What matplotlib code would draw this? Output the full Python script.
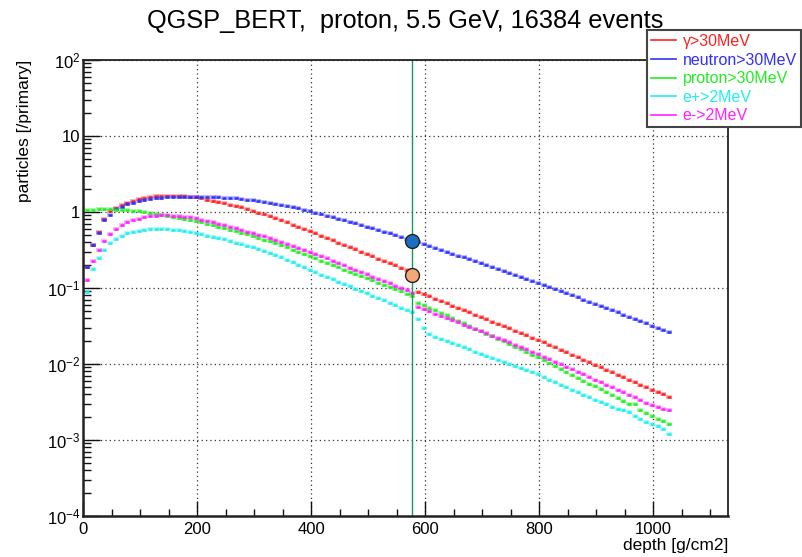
import numpy as np
import matplotlib
matplotlib.use('Agg')
import matplotlib.pyplot as plt
from matplotlib.lines import Line2D
from matplotlib.ticker import MultipleLocator, LogLocator, NullFormatter

plt.rcParams['font.family'] = ['Liberation Sans', 'DejaVu Sans']
plt.rcParams['mathtext.fontset'] = 'custom'
plt.rcParams['mathtext.rm'] = 'Liberation Sans'

# bin centres of the depth histograms (10 g/cm2 bins)
depth = np.arange(7.5, 1030, 10)

gamma = [0.19, 0.37, 0.55, 0.82, 1.02, 1.14, 1.24, 1.33, 1.41, 1.48,
         1.54, 1.58, 1.61, 1.63, 1.64, 1.64, 1.63, 1.61, 1.585, 1.555,
         1.507, 1.459, 1.409, 1.358, 1.306, 1.253, 1.200, 1.146, 1.091, 1.038,
         0.984, 0.931, 0.879, 0.828, 0.778, 0.730, 0.684, 0.640, 0.598, 0.560,
         0.522, 0.488, 0.455, 0.425, 0.396, 0.370, 0.345, 0.322, 0.301, 0.281,
         0.262, 0.244, 0.228, 0.213, 0.199, 0.185, 0.173, 0.161, 0.0879, 0.0828,
         0.0773, 0.0721, 0.0673, 0.0628, 0.0586, 0.0547, 0.0511, 0.0476, 0.0445, 0.0415,
         0.0387, 0.0361, 0.0337, 0.0315, 0.0294, 0.0274, 0.0256, 0.0239, 0.0223, 0.0208,
         0.0193, 0.0179, 0.0166, 0.0153, 0.0142, 0.0132, 0.0122, 0.0113, 0.0105, 0.00973,
         0.00902, 0.00836, 0.00774, 0.00718, 0.00665, 0.00617, 0.00571, 0.00530, 0.00491, 0.00455,
         0.00422, 0.00398, 0.00372]

neutron = [0.19, 0.37, 0.53, 0.78, 0.92, 1.08, 1.18, 1.26, 1.33, 1.39,
           1.44, 1.48, 1.51, 1.54, 1.56, 1.575, 1.585, 1.59, 1.59, 1.585,
           1.582, 1.578, 1.570, 1.560, 1.545, 1.528, 1.507, 1.483, 1.455, 1.426,
           1.393, 1.358, 1.321, 1.282, 1.242, 1.199, 1.156, 1.112, 1.067, 1.023,
           0.979, 0.938, 0.895, 0.855, 0.817, 0.780, 0.743, 0.708, 0.675, 0.643,
           0.611, 0.581, 0.552, 0.525, 0.498, 0.472, 0.447, 0.423, 0.400, 0.378,
           0.356, 0.337, 0.318, 0.300, 0.283, 0.267, 0.252, 0.238, 0.224, 0.211,
           0.199, 0.187, 0.177, 0.166, 0.157, 0.148, 0.139, 0.131, 0.123, 0.116,
           0.109, 0.103, 0.0964, 0.0906, 0.0851, 0.0800, 0.0750, 0.0703, 0.0659, 0.0618,
           0.0579, 0.0543, 0.0509, 0.0478, 0.0447, 0.0418, 0.0391, 0.0366, 0.0342, 0.0320,
           0.0299, 0.0280, 0.0262]

proton = [1.05, 1.07, 1.08, 1.08, 1.08, 1.07, 1.06, 1.05, 1.04, 1.02,
          1.0, 0.975, 0.95, 0.922, 0.895, 0.868, 0.84, 0.812, 0.785, 0.758,
          0.728, 0.698, 0.670, 0.643, 0.617, 0.587, 0.560, 0.533, 0.508, 0.484,
          0.458, 0.434, 0.410, 0.388, 0.367, 0.344, 0.321, 0.301, 0.281, 0.263,
          0.245, 0.229, 0.214, 0.200, 0.187, 0.175, 0.164, 0.153, 0.144, 0.134,
          0.126, 0.117, 0.110, 0.103, 0.0962, 0.0900, 0.0841, 0.0787, 0.0631, 0.0596,
          0.0551, 0.0509, 0.0470, 0.0435, 0.0402, 0.0372, 0.0344, 0.0317, 0.0293, 0.0271,
          0.0251, 0.0232, 0.0214, 0.0198, 0.0183, 0.0169, 0.0156, 0.0144, 0.0133, 0.0123,
          0.0113, 0.0103, 0.00944, 0.00863, 0.00789, 0.00723, 0.00661, 0.00604, 0.00552, 0.00506,
          0.00462, 0.00423, 0.00387, 0.00354, 0.00324, 0.00302, 0.00295, 0.00251, 0.00229, 0.00207,
          0.00191, 0.00178, 0.00162]

positron = [0.089, 0.176, 0.25, 0.32, 0.39, 0.44, 0.49, 0.525, 0.55, 0.57,
            0.585, 0.593, 0.597, 0.598, 0.595, 0.588, 0.577, 0.563, 0.547, 0.53,
            0.509, 0.490, 0.471, 0.453, 0.436, 0.415, 0.395, 0.377, 0.359, 0.342,
            0.322, 0.303, 0.286, 0.269, 0.254, 0.235, 0.218, 0.202, 0.187, 0.173,
            0.161, 0.150, 0.140, 0.130, 0.121, 0.113, 0.105, 0.0979, 0.0912, 0.0849,
            0.0791, 0.0736, 0.0685, 0.0638, 0.0594, 0.0553, 0.0515, 0.0480, 0.0389, 0.0295,
            0.0245, 0.0226, 0.0214, 0.0200, 0.0188, 0.0177, 0.0166, 0.0156, 0.0146, 0.0137,
            0.0129, 0.0121, 0.0114, 0.0106, 0.0100, 0.00938, 0.00881, 0.00826, 0.00776, 0.00728,
            0.00675, 0.00625, 0.00579, 0.00537, 0.00498, 0.00461, 0.00428, 0.00396, 0.00367, 0.00340,
            0.00316, 0.00295, 0.00275, 0.00257, 0.00245, 0.00234, 0.00204, 0.00191, 0.00174, 0.00162,
            0.00151, 0.00138, 0.00120]

electron = [0.127, 0.226, 0.316, 0.41, 0.51, 0.60, 0.67, 0.73, 0.78, 0.82,
            0.85, 0.875, 0.89, 0.90, 0.90, 0.895, 0.885, 0.87, 0.852, 0.832,
            0.796, 0.762, 0.729, 0.698, 0.667, 0.637, 0.608, 0.581, 0.553, 0.527,
            0.501, 0.476, 0.452, 0.429, 0.406, 0.383, 0.361, 0.340, 0.319, 0.300,
            0.281, 0.262, 0.245, 0.229, 0.214, 0.200, 0.186, 0.174, 0.162, 0.151,
            0.141, 0.132, 0.123, 0.115, 0.107, 0.100, 0.0933, 0.0871, 0.0556, 0.0525,
            0.0491, 0.0459, 0.0430, 0.0402, 0.0376, 0.0352, 0.0329, 0.0308, 0.0288, 0.0269,
            0.0252, 0.0236, 0.0220, 0.0206, 0.0193, 0.0180, 0.0169, 0.0158, 0.0146, 0.0136,
            0.0125, 0.0116, 0.0107, 0.00995, 0.00920, 0.00851, 0.00789, 0.00729, 0.00676, 0.00625,
            0.00578, 0.00536, 0.00495, 0.00459, 0.00425, 0.00393, 0.00363, 0.00337, 0.00311, 0.00288,
            0.00269, 0.00254, 0.00251]

series = [gamma, neutron, proton, positron, electron]
labels = ['γ>30MeV', 'neutron>30MeV', 'proton>30MeV', 'e+>2MeV', 'e->2MeV']
colors = ['#ff2020', '#3030ff', '#22ee22', '#22eeee', '#ff22ff']

# marked depth and the two values read there
mark_depth = 577
mark_vals = [0.42, 0.15]
mark_colors = ['#1a6fc2', '#f2a877']

ytick_vals = [1e-4, 1e-3, 1e-2, 1e-1, 1, 10, 100]
ytick_labels = [r'$\mathregular{10^{-4}}$', r'$\mathregular{10^{-3}}$', r'$\mathregular{10^{-2}}$',
                r'$\mathregular{10^{-1}}$', '1', '10', r'$\mathregular{10^{2}}$']

fig = plt.figure(figsize=(8.03, 5.57), dpi=100)
ax = fig.add_axes([0.1034, 0.0736, 0.8032, 0.8187])

for vals, c in zip(series, colors):
    # pale halo + core, like the blurred ROOT markers
    ax.plot(depth, vals, linestyle='none', marker='_', markersize=3.8, mew=2.8, color=c, alpha=0.35)
    ax.plot(depth, vals, linestyle='none', marker='_', markersize=3.0, mew=1.8, color=c)

ax.axvline(mark_depth, color='#1a9a50', lw=1.0)
for v, c in zip(mark_vals, mark_colors):
    ax.plot([mark_depth], [v], 'o', markersize=10, mfc=c, mec='#222222', mew=1.0, zorder=5)

ax.set_yscale('log')
ax.set_xlim(0, 1131)
ax.set_ylim(1e-4, 1e2)

ax.xaxis.set_major_locator(MultipleLocator(200))
ax.xaxis.set_minor_locator(MultipleLocator(50))
ax.set_yticks(ytick_vals)
ax.set_yticklabels(ytick_labels)
ax.yaxis.set_minor_locator(LogLocator(base=10, subs=np.arange(2, 10)))
ax.yaxis.set_minor_formatter(NullFormatter())

ax.tick_params(axis='both', which='both', direction='in', top=False, right=False,
               labelsize=12, width=1.0, color='#111111')
ax.tick_params(axis='x', which='major', length=11, pad=4)
ax.tick_params(axis='x', which='minor', length=5)
ax.tick_params(axis='y', which='major', length=12, pad=2)
ax.tick_params(axis='y', which='minor', length=6)

for s in ax.spines.values():
    s.set_linewidth(1.3)
    s.set_color('#222222')
ax.spines['left'].set_linewidth(1.8)
ax.spines['bottom'].set_linewidth(1.8)

ax.grid(True, which='major', linestyle=(0, (1, 2.5)), color='#333333', lw=0.9)

ax.set_ylabel('particles [/primary]', fontsize=12.5, loc='top')
ax.yaxis.set_label_coords(-0.079, 1.0)
ax.set_xlabel('depth [g/cm2]', fontsize=12.5, loc='right')
ax.xaxis.set_label_coords(1.0, -0.048)

fig.text(0.504, 0.962, 'QGSP_BERT,  proton, 5.5 GeV, 16384 events',
         ha='center', va='center', fontsize=18.3)

handles = [Line2D([], [], color=c, lw=1.2) for c in colors]
leg = fig.legend(handles, labels, loc='upper right', bbox_to_anchor=(0.9975, 0.946),
                 fontsize=11.5, frameon=True, fancybox=False, edgecolor='#444444',
                 framealpha=1, borderpad=0.25, labelspacing=0.22, handlelength=1.55,
                 handletextpad=0.45, borderaxespad=0)
leg.get_frame().set_linewidth(1.5)
for t, c in zip(leg.get_texts(), colors):
    t.set_color(c)

fig.savefig('out.png', dpi=100)
